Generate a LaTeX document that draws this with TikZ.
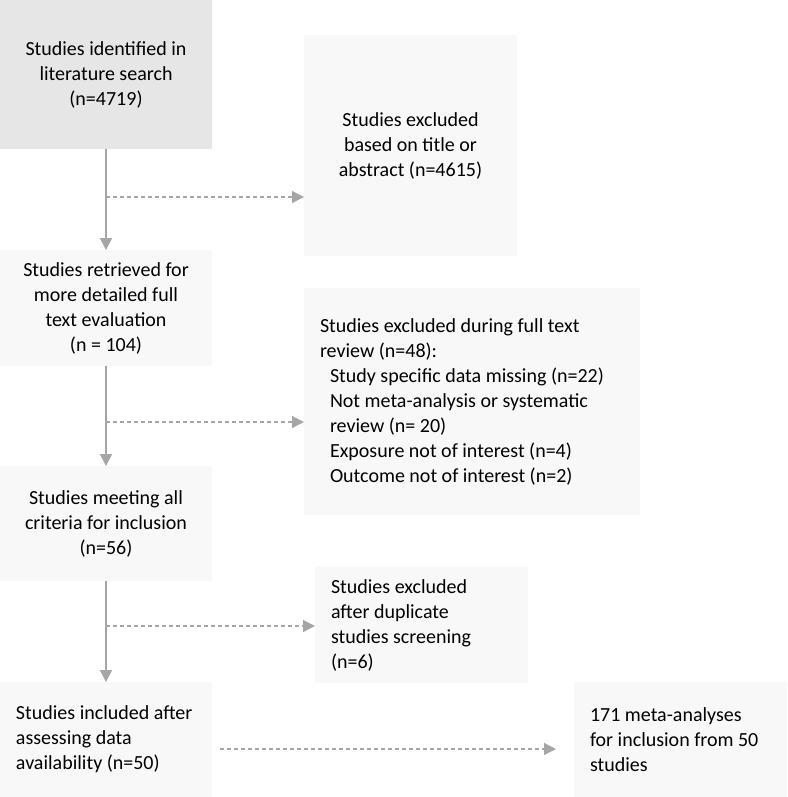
\documentclass[tikz,border=0pt]{standalone}
\usepackage{fontspec}
\setmainfont{Carlito}
\definecolor{boxgrey}{RGB}{230,230,230}
\definecolor{boxlight}{RGB}{248,248,248}
\definecolor{linegrey}{RGB}{166,166,166}
\usetikzlibrary{arrows.meta,calc}

\begin{document}
\begin{tikzpicture}[x=1pt,y=-1pt,
    every node/.style={inner ysep=0pt,outer sep=0pt,anchor=north west,
      font=\fontsize{20}{25}\selectfont},
    midbox/.style={fill=boxlight,align=center,minimum width=212pt},
    sidebox/.style={fill=boxlight,align=flush left,inner xsep=16pt},
    flow/.style={draw=linegrey,line width=1.8pt,
      -{Triangle[width=12pt,length=12pt,fill=linegrey]}},
    skip/.style={draw=linegrey,line width=1.2pt,dash pattern=on 4pt off 3pt,
      -{Triangle[width=12pt,length=12pt,fill=linegrey]}}
    ]
    \useasboundingbox (0,0) rectangle (787,797);

    \node (ident) [midbox,fill=boxgrey,minimum height=149pt] at (0,0)
      {Studies identified in\\literature search\\(n=4719)};
    \node (exabs) [midbox,minimum width=213pt,minimum height=221pt] at (304,35)
      {Studies excluded\\based on title or\\abstract (n=4615)};
    \node (retr) [midbox,minimum height=116pt] at (0,250)
      {Studies retrieved for\\more detailed full\\text evaluation\\(n = 104)};
    \node (exfull) [sidebox,text width=304pt,minimum height=227pt] at (304,288)
      {Studies excluded during full text\\review (n=48):\\
       \hspace*{10pt}Study specific data missing (n=22)\\
       \hspace*{10pt}Not meta-analysis or systematic\\
       \hspace*{10pt}review (n= 20)\\
       \hspace*{10pt}Exposure not of interest (n=4)\\
       \hspace*{10pt}Outcome not of interest (n=2)};
    \node (meet) [midbox,minimum height=115pt] at (0,466)
      {Studies meeting all\\criteria for inclusion\\(n=56)};
    \node (exdup) [sidebox,text width=181pt,minimum height=116pt] at (315,567)
      {Studies excluded\\after duplicate\\studies screening\\(n=6)};
    \node (incl) [sidebox,text width=180pt,minimum height=115pt] at (0,682)
      {Studies included after\\assessing data\\availability (n=50)};
    \node (meta) [sidebox,text width=181pt,minimum height=115pt] at (574,682)
      {171 meta-analyses\\for inclusion from 50\\studies};

    % the edges
    \draw[flow] (ident.south) -- (retr.north);
    \draw[flow] (retr.south) -- (meet.north);
    \draw[flow] (meet.south) -- (incl.north);

    \coordinate (d1) at (106,197);
    \coordinate (d2) at (106,422);
    \coordinate (d3) at (106,626);
    \coordinate (d4) at (220,749);
    \draw[skip] (d1) -- (d1 -| exabs.west);
    \draw[skip] (d2) -- (d2 -| exfull.west);
    \draw[skip] (d3) -- (d3 -| exdup.west);
    \draw[skip,shorten >=18pt] (d4) -- (d4 -| meta.west);
\end{tikzpicture}
\end{document}
